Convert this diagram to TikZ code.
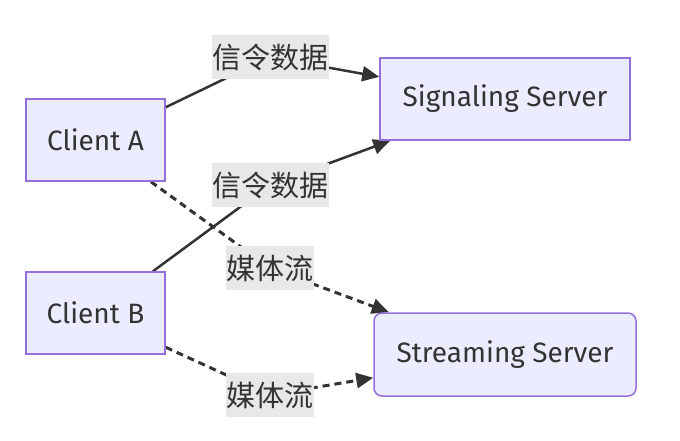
\documentclass[tikz,border=0pt]{standalone}
\usepackage{fontspec}
\setmainfont{Fira Sans}
\newfontfamily\cjk{Noto Sans CJK SC}
\usetikzlibrary{positioning,arrows.meta,backgrounds}
\definecolor{nodefill}{HTML}{ECECFF}
\definecolor{nodeline}{HTML}{9370DB}
\definecolor{edgeline}{HTML}{333333}
\definecolor{labelbg}{HTML}{E8E8E8}

\begin{document}
\begin{tikzpicture}[
    x=1pt, y=-1pt,
    >={Triangle[length=17pt,width=15pt]},
    block/.style={draw=nodeline, fill=nodefill, line width=1.5pt, minimum width=139pt,
      minimum height=82pt, text=edgeline, font=\fontsize{28}{32}\selectfont},
    tag/.style={fill=labelbg, inner xsep=0.5pt, inner ysep=1pt, minimum height=44pt,
      text=edgeline, font=\cjk\fontsize{29}{32}\selectfont},
    link/.style={draw=edgeline, line width=2.5pt},
    media/.style={link, line width=3pt, dash pattern=on 7pt off 5pt}
  ]
  \useasboundingbox (0,0) rectangle (680,440);

  % nodi
  \node[block] (clientA) at (95.5,140) {Client A};
  \node[block] (clientB) at (95.5,313) {Client B};
  \node[block, minimum width=250pt] (sig) at (505,99) {Signaling Server};
  \node[block, rounded corners=8pt, minimum width=262pt, minimum height=83pt] (stream) at (505,354.5) {Streaming Server};

  % etichette
  \node[tag] (sigA) at (270,57) {信令数据};
  \node[tag] (sigB) at (270,185) {信令数据};
  \node[tag] (medA) at (270,268) {媒体流};
  \node[tag] (medB) at (270,395) {媒体流};

  % collegamenti (sotto le etichette)
  \begin{scope}[on background layer]
    \draw[link,->] (clientA.25) -- (sigA.center) -- (sig.170);
    \draw[link,->] (clientB.36) -- (sigB.center) -- (sig.200);
    \draw[media,->] (clientA.-37) -- (medA.center) -- (stream.160);
    \draw[media,->] (clientB.-26) -- (medB.center) -- (stream.190);
  \end{scope}

\end{tikzpicture}
\end{document}
